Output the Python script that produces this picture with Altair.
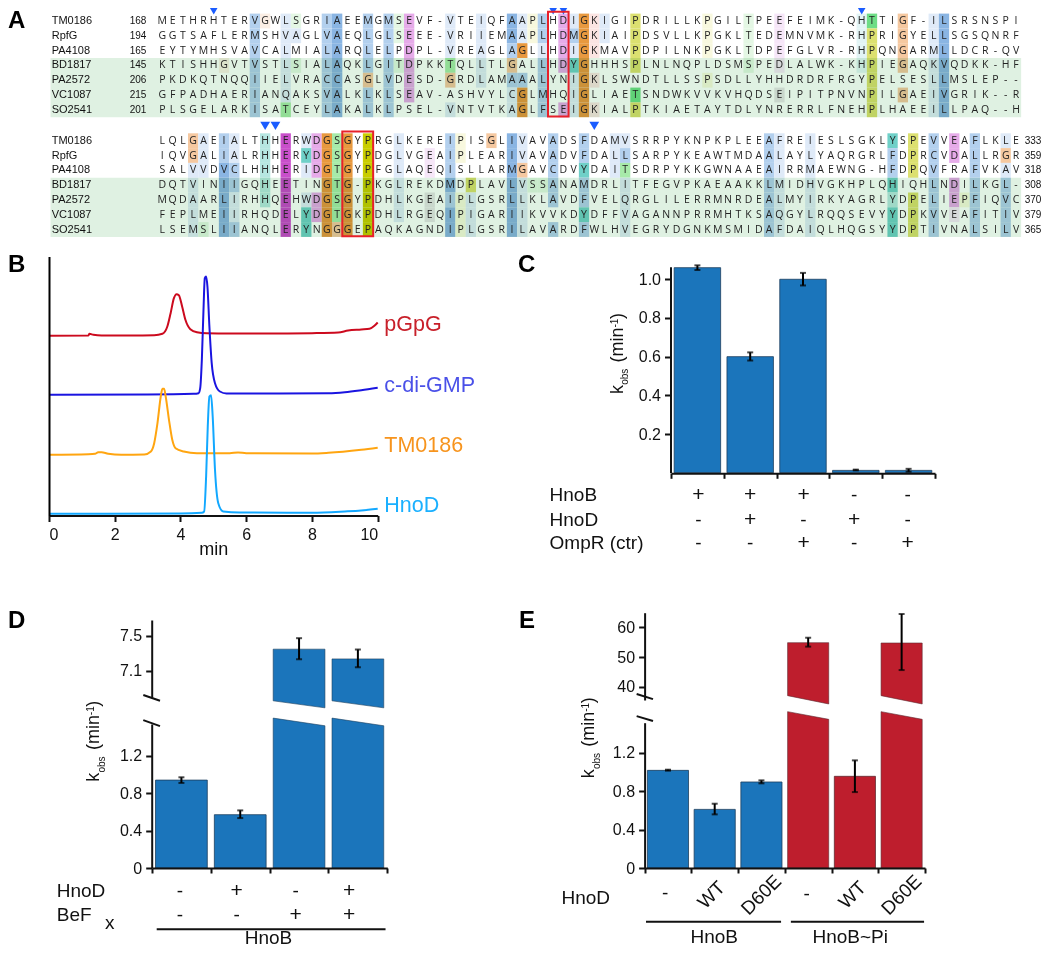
import altair as alt
import pandas as pd

W, H = 1034, 937
FONT = "Liberation Sans"

# ---------- panel A data ----------
names = ["TM0186", "RpfG", "PA4108", "BD1817", "PA2572", "VC1087", "SO2541"]
start1 = ["168", "194", "165", "145", "206", "215", "201"]
end2 = ["333", "359", "318", "308", "370", "379", "365"]
seq1 = [
    "METHRHTERVGWLSGRIAEEMGMSEVF-VTEIQFAAPLHDIGKIGIPDRILLKPGILTPEEFEIMK-QHTTIGF-ILSRSNSPI",
    "GGTSAFLERMSHVAGLVAEQLGLSEEE-VRIIEMAAPLHDMGKIAIPDSVLLKPGKLTEDEMNVMK-RHPRIGYELLSGSQNRF",
    "EYTYMHSVAVCALMIALARQLELPDPL-VREAGLAGLLHDIGKMAVPDPILNKPGKLTDPEFGLVR-RHPQNGARMLLDCR-QV",
    "KTISHHGVTVSTLSIALAQKLGITDPKKTQLLTLGALLHDYGHHHSPLNLNQPLDSMSPEDLALWK-KHPIEGAQKVQDKK-HF",
    "PKDKQTNQQIIELVRACCASGLVDESD-GRDLAMAAALYNIGKLSWNDTLLSSPSDLLYHHDRDRFRGYPELSESLLMSLEP--",
    "GFPADHAERIANQAKSVALKLKLSEAV-ASHVYLCGLMHQIGLIAETSNDWKVVKVHQDSEIPITPNVNPILGAEIVGRIK--R",
    "PLSGELARKISATCEYLAKALKLPSEL-VNTVTKAGLFSEIGKIALPTKIAETAYTDLYNRERRLFNEHPLHAEEILLPAQ--H",
]
seq2 = [
    "LQLGAEIALTHHERWDGSGYPRGLKEREIPISGLIVAVADSFDAMVSRRPYKNPKPLEEAFREIESLSGKLYSPEVVEAFLKLE",
    "IQVGALIALRHHERYDGSGYPDGLVGEAIPLEARIVAVADVFDALLSARPYKEAWTMDAALAYLYAQRGRLFDPRCVDALLRGR",
    "SALVVDVCLHHHERIDGTGYPFGLAQEQISLLARMGAVCDVYDAITSDRPYKKGWNAAEAIRRMAEWNG-HFDPQVFRAFVKAV",
    "DQTVINIIGQHEETINGTG-PKGLREKDMDPLAVLVSSANAMDRLITFEGVPKAEAAKKLMIDHVGKHPLQHIQHLNDILKGL-",
    "MQDAARLIRHHQEHWDGSGYPDHLKGEAIPLGSRLLKLAVDFVELQRGLILERRMNRDEALMYIRKYAGRLYDPELIEPFIQVC",
    "FEPLMEIIRHQDELYDGTGKPDHLRGEQIPIGARIIKVVKDYDFFVAGANNPRRMHTKSAQGYLRQQSEVYYDPKVVEAFITIV",
    "LSEMSLIIANQLERYNGGGEPAQKAGNDIPLGSRILAVARDFWLHVEGRYDGNKMSMIDAFDAIQLHQGSYYDPTIVNALSILV",
]
conservation_colors = {
    "A": "#dfeaf8", "B": "#b3d0ee", "C": "#8ab5e3", "O": "#e8993f", "o": "#f5c8a0", "p": "#fbeee4",
    "m": "#c94fcb", "M": "#e6abe9", "k": "#f6e6f8", "Y": "#c9cd00", "y": "#dce070", "z": "#f8f8de",
    "G": "#6edd86", "g": "#a7eaa9", "h": "#e4f7e4", "T": "#6fd0c8", "t": "#b6e6e1", "u": "#e2f4f5",
    "r": "#fbe4e2", "x": "#e6e4e6",
}
shade1 = {
    6: "...p...", 9: "BBBBBBB", 10: "p......", 12: "AAAAAAg", 13: "hA.h...", 16: "BBBBBBB", 17: "CCCCCCC",
    20: "BBBBoBB", 22: "BBBBBBB", 23: "hh.h...", 24: "MMMMMM.", 28: "AAAgo.A", 31: "AAAAA..", 34: "CCBoBAA",
    35: "AAO.BOO", 36: "zz.....", 37: "BBABBBB", 39: "MMMM..M", 40: "ABATAAA", 41: "OOOOOOO", 42: "rrr.r.r",
    43: "AA.....", 46: "yyyy.Gy", 53: "zzz.z..", 57: "hhhh...", 60: "kkkk.x.", 68: "uuuu...", 69: "Gyyyyyy",
    72: "oooo.o.", 75: "AAAAAAA", 76: "CCCCCCC",
}
shade2 = {
    3: "ooAAAAA", 4: "AAA...h", 6: "BBCCCCC", 7: "AABBAAB", 10: "ttttt..", 12: "mmmmmmm", 14: "ATA.ATT",
    15: "MMM.MM.", 16: "OOOOOOO", 17: "ggggggo", 18: "OOOOOOO", 20: "YYYYYYY", 23: "AAAAAA.", 26: ".kk.xx.",
    28: "BBBCBCC", 29: "zz..zzz", 30: "...yAAA", 32: "o......", 34: "CCCCCCC", 35: "AAoAAAA", 36: "...h...",
    37: "...h...", 38: "BBBBB.B", 41: "BBTBBTB", 44: "AAA....", 45: "ABgAAAA", 59: "BBBBBBB", 60: "AAAAAAA",
    63: "AAAAAAA", 71: "TBBTtTT", 73: "yyy.yyy", 75: "BBBBBBB", 77: "MM.MMk.", 78: "....z..", 79: "BBBBBBB",
    82: "AoABBBB",
}
arrows1 = [5, 38, 39, 68]
arrows2 = [10, 11, 42]

# ---------- panel B data ----------
t_pgpg = [0, 1.2, 1.23, 1.35, 1.6, 2.5, 3.2, 3.45, 3.6, 3.7, 3.8, 3.88, 3.95, 4.05, 4.15, 4.3, 4.5, 4.8, 5.5, 7, 8, 8.8, 9.1, 9.5, 9.75, 9.9, 10]
v_pgpg = [179.7, 180, 181.7, 180.7, 180, 180, 180.3, 181.7, 189, 202.3, 217.3, 221.3, 220.3, 209, 195.7, 186.3, 183.3, 182.3, 182, 182, 182.3, 183, 185, 186, 186.7, 189.7, 193]
t_cdg = [0, 3, 4.4, 4.55, 4.6, 4.65, 4.7, 4.74, 4.78, 4.82, 4.88, 4.95, 5.05, 5.2, 5.4, 7, 8.5, 9, 9.5, 10]
v_cdg = [120.7, 121, 121.7, 122.3, 127.3, 155.7, 205.7, 237.3, 239, 229, 189, 152.3, 132.3, 124, 122, 122, 122.3, 123.3, 125.3, 127.7]
t_tm = [0, 1.2, 1.4, 1.5, 1.6, 1.8, 2.2, 2.9, 3.1, 3.2, 3.3, 3.4, 3.45, 3.5, 3.55, 3.65, 3.75, 3.85, 4.1, 4.5, 5.5, 5.75, 6, 8, 8.5, 9.5, 10]
v_tm = [60.7, 61.3, 61.7, 63.3, 63.3, 61.7, 60.7, 61, 64, 72.3, 92.3, 119, 126.7, 126.7, 119, 95.7, 75.7, 67.3, 64, 62.3, 62.3, 63, 62.3, 62, 62.7, 65.7, 67.7]
t_hnod = [0, 4, 4.65, 4.72, 4.78, 4.83, 4.88, 4.93, 4.98, 5.05, 5.15, 5.3, 5.8, 8, 9, 9.5, 10]
v_hnod = [1.7, 2, 2.7, 4, 39, 89, 119, 120.3, 99, 45.7, 12.3, 4, 3, 2.7, 4, 5, 6.7]
b_labels = ["pGpG", "c-di-GMP", "TM0186", "HnoD"]
b_label_y = [185, 124, 64, 4]
b_line_colors = ["#cc0a1e", "#1a14e0", "#ffa510", "#12a8ff"]
b_text_colors = ["#c8202a", "#4a50e8", "#f7941d", "#1ab0ff"]

# ---------- panel C data ----------
c_val = [1.06, 0.60, 1.00, 0.012, 0.012]
c_lo = [1.048, 0.58, 0.968, 0.012, 0.005]
c_hi = [1.072, 0.622, 1.033, 0.016, 0.02]
c_rows = ["HnoB", "HnoD", "OmpR (ctr)"]
c_signs = [list("+++--"), list("-+-+-"), list("--+-+")]

# ---------- panel D data ----------
d_val = [0.94, 0.57]
d_lo = [0.91, 0.534]
d_hi = [0.97, 0.616]
d_up_top = [7.348, 7.237]
d_up_lo = [7.233, 7.142]
d_up_hi = [7.473, 7.344]

# ---------- panel E data ----------
e_blue = [1.016, 0.61, 0.895]
e_blue_lo = [1.013, 0.558, 0.881]
e_blue_hi = [1.023, 0.669, 0.912]
e_red_wt = [0.954]
e_red_wt_lo = [0.79]
e_red_wt_hi = [1.12]
e_up_top = [54.83, 54.72]
e_up_lo = [53.5, 45.6]
e_up_hi = [56.5, 64.5]
e_ticks = ["-", "WT", "D60E", "-", "WT", "D60E"]

BLUE, RED = "#1b75bb", "#be1e2d"
layers = []


def scale(domain, rng):
    return alt.Scale(domain=domain, range=[rng[0] - 8, rng[1] - 8], nice=False, zero=False)


def X(f, s, axis=None):
    return alt.X(f"{f}:Q", scale=s, axis=axis, title=None)


def Y(f, s, axis=None):
    return alt.Y(f"{f}:Q", scale=s, axis=axis, title=None, stack=False)


def left_axis(px, values, fmt=None):
    kw = dict(orient="left", offset=-(px - 8), values=values, domainWidth=2, domainColor="#111",
              tickColor="#111", tickWidth=2, tickSize=6, labelFont=FONT, labelFontSize=16, labelColor="#111",
              labelPadding=4, labelOverlap=False, grid=False, title=None, zindex=1, labelBound=False)
    if fmt:
        kw["labelExpr"] = fmt
    else:
        kw["format"] = ".1f"
    return alt.Axis(**kw)


def bottom_axis(py, values, labels=False, **extra):
    return alt.Axis(orient="bottom", offset=(py - 8) - H, values=values, domainWidth=2, domainColor="#111",
                    tickColor="#111", tickWidth=2, tickSize=5, labels=labels, grid=False, zindex=1,
                    labelFont=FONT, labelOverlap=False, labelBound=False, **extra)


def rect(df, sx, sy, x="x", x2="x2", y="y", y2="y2", **mk):
    return alt.Chart(df).mark_rect(**mk).encode(
        x=X(x, sx), x2=alt.X2(x2), y=Y(y, sy), y2=alt.Y2(y2))


def bars(xs, vals, sx, sy, color, xaxis=None, yaxis=None):
    df = pd.DataFrame({"x": [v + 0.06 for v in xs], "x2": [v + 0.94 for v in xs], "y": vals, "y2": [0] * len(vals)})
    return alt.Chart(df).mark_rect(fill=color, stroke="#1d3f5e" if color == BLUE else "#5e2a30", strokeWidth=0.8).encode(
        x=X("x", sx, xaxis), x2=alt.X2("x2"), y=Y("y", sy, yaxis), y2=alt.Y2("y2"))


def errbars(xs, lo, hi, sx, sy):
    df = pd.DataFrame({"x": xs, "lo": lo, "hi": hi})
    out = [alt.Chart(df).mark_rule(color="#000", strokeWidth=2).encode(x=X("x", sx), y=Y("lo", sy), y2=alt.Y2("hi"))]
    for f in ("lo", "hi"):
        out.append(alt.Chart(df).mark_tick(color="#000", orient="horizontal", size=6, thickness=2).encode(
            x=X("x", sx), y=Y(f, sy)))
    return out


def labels(xs, ys, texts, sx, sy, size=19, align="center", **mk):
    df = pd.DataFrame({"x": xs, "y": ys, "t": texts})
    return alt.Chart(df).mark_text(font=FONT, fontSize=size, align=align, baseline="middle", color="#111", **mk).encode(
        x=X("x", sx), y=Y("y", sy), text="t:N")


def fixed_text(px, py, t, size, angle=0, weight="normal", color="#111", align="left"):
    kw = {"angle": angle} if angle else {}
    return alt.Chart(pd.DataFrame({"a": [0]})).mark_text(
        font=FONT, fontSize=size, align=align, baseline="alphabetic", fontWeight=weight, color=color, **kw
    ).encode(x=alt.value(px - 8), y=alt.value(py - 8), text=alt.value(t))


def kobs(bx, by):
    pieces = [("k", 0, 18, 0), ("obs", 9.2, 10, 5.5), ("(min", 31.6, 18, 0), ("-1", 66.5, 10, -5), (")", 75, 18, 0)]
    return [fixed_text(bx + dx, by - along, t, size, angle=270) for t, along, size, dx in pieces]


def slash(sx, sy, x0, x1, y0, y1):
    df = pd.DataFrame({"x": [x0], "x2": [x1], "y": [y0], "y2": [y1]})
    return alt.Chart(df).mark_rule(color="#111", strokeWidth=2).encode(
        x=X("x", sx), x2=alt.X2("x2"), y=Y("y", sy), y2=alt.Y2("y2"))


def wedge(bar_x, y_left, y_right, y2_left, y2_right, sx, sy, color):
    df = pd.DataFrame({"x": [bar_x + 0.06, bar_x + 0.94], "y": [y_left, y_right], "y2": [y2_left, y2_right]})
    return alt.Chart(df).mark_area(fill=color, orient="vertical", stroke="#1d3f5e" if color == BLUE else "#5e2a30",
                                   strokeWidth=0.6).encode(
        x=X("x", sx), y=Y("y", sy), y2=alt.Y2("y2"))


# ---------- panel A ----------
def block(seqs, shade, arrows, arrow_row, arrow_size, top, box, left_nums, right_nums):
    sx = scale([0, 83], [162.3, 1016])
    sy = scale([-1, 6], [top - 14.8, top + 6 * 14.8])
    cols, rows, fills = [], [], []
    for c, codes in shade.items():
        for r, code in enumerate(codes):
            if code != ".":
                cols.append(c)
                rows.append(r)
                fills.append(conservation_colors[code])
    df = pd.DataFrame({"x": [c - 0.5 for c in cols], "x2": [c + 0.5 for c in cols],
                       "y": [r - 0.5 for r in rows], "y2": [r + 0.5 for r in rows], "f": fills})
    layers.append(alt.Chart(df).mark_rect().encode(
        x=X("x", sx), x2=alt.X2("x2"), y=Y("y", sy), y2=alt.Y2("y2"), fill=alt.Fill("f:N", scale=None)))
    band = pd.DataFrame({"x": [-10.87], "x2": [83.5], "y": [2.5], "y2": [6.5]})
    layers.append(rect(band, sx, sy, fill="#dff1e2", blend="multiply"))
    letters = [(c, r, ch) for r, s in enumerate(seqs) for c, ch in enumerate(s)]
    ldf = pd.DataFrame(letters, columns=["x", "y", "t"])
    layers.append(alt.Chart(ldf).mark_text(font="Open Sans", fontSize=10.5, baseline="middle", color="#222").encode(
        x=X("x", sx), y=Y("y", sy), text="t:N"))
    layers.append(labels([-10.75] * 7, list(range(7)), names, sx, sy, size=11, align="left"))
    if left_nums:
        layers.append(labels([-2.36] * 7, list(range(7)), left_nums, sx, sy, size=10))
    if right_nums:
        layers.append(labels([83.85] * 7, list(range(7)), right_nums, sx, sy, size=10, align="left"))
    adf = pd.DataFrame({"x": arrows, "y": [arrow_row] * len(arrows)})
    layers.append(alt.Chart(adf).mark_point(shape="triangle-down", filled=True, fill="#1a5cff", color="#1a5cff",
                                            opacity=1, size=arrow_size).encode(x=X("x", sx), y=Y("y", sy)))
    bdf = pd.DataFrame({"x": [box[0]], "x2": [box[1]], "y": [-0.63], "y2": [6.45]})
    layers.append(rect(bdf, sx, sy, fillOpacity=0, fill="#fff", stroke="#e8202a", strokeWidth=2))


block(seq1, shade1, arrows1, -0.67, 65, 21, (37.5, 39.5), start1, None)
block(seq2, shade2, arrows2, -1, 95, 140.7, (17.5, 20.5), None, end2)

# ---------- panel B ----------
bx = scale([0, 10], [49, 377.7])
by = scale([0, 259], [515.5, 256.5])
b_axis_x = alt.Axis(orient="bottom", offset=(515.5 - 8) - H, values=[0, 2, 4, 6, 8, 10], domainWidth=2, domainColor="#111",
                    tickColor="#111", tickWidth=2, tickSize=6, labelFont=FONT, labelFontSize=16, labelColor="#111",
                    labelPadding=5, grid=False, zindex=1, labelBound=False, labelOverlap=False, format="d",
                    title="min", titleFont=FONT, titleFontSize=18, titleFontWeight="normal", titleColor="#111",
                    titlePadding=-2)
b_axis_y = alt.Axis(orient="left", offset=-(49 - 8), values=[], domainWidth=2, domainColor="#000", ticks=False, labels=False,
                    grid=False, title=None, zindex=1)
b_series = [(t_pgpg, v_pgpg), (t_cdg, v_cdg), (t_tm, v_tm), (t_hnod, v_hnod)]
for i, (tt, vv) in enumerate(b_series):
    enc_x = alt.X("t:Q", scale=bx, axis=b_axis_x if i == 0 else None, title="min" if i == 0 else None)
    layers.append(alt.Chart(pd.DataFrame({"t": tt, "v": vv})).mark_line(
        color=b_line_colors[i], strokeWidth=2, interpolate="monotone").encode(
        x=enc_x, y=alt.Y("v:Q", scale=by, axis=b_axis_y if i == 0 else None, title=None)))
    ldf = pd.DataFrame({"x": [10.2], "y": [b_label_y[i]], "t": [b_labels[i]]})
    layers.append(alt.Chart(ldf).mark_text(font=FONT, fontSize=21.5, align="left", baseline="alphabetic",
                                           color=b_text_colors[i]).encode(x=X("x", bx), y=Y("y", by), text="t:N"))

# ---------- panel C ----------
cx = scale([0, 5], [671, 935])
cy = scale([0, 1.065], [472.7, 266.7])
ctab = scale([0, 100], [473, 573])
layers.append(bars(list(range(5)), c_val, cx, cy, BLUE,
                   bottom_axis(473.3, [0, 1, 2, 3, 4, 5]), left_axis(670.5, [0.2, 0.4, 0.6, 0.8, 1.0])))
layers += errbars([i + 0.5 for i in range(5)], c_lo, c_hi, cx, cy)
c_sym_x = [0.52, 1.5, 2.51, 3.47, 4.48]
c_row_y = [22, 47, 70.3]
layers.append(labels([-2.3] * 3, c_row_y, c_rows, cx, ctab, align="left"))
for r, row in enumerate(c_signs):
    for sign, size in (("+", 21), ("-", 19)):
        xs = [c_sym_x[i] for i, s in enumerate(row) if s == sign]
        if xs:
            layers.append(labels(xs, [c_row_y[r]] * len(xs), [sign] * len(xs), cx, ctab, size=size))
layers += kobs(622.6, 394)

# ---------- panel D ----------
dx = scale([0, 4], [152, 387.3])
dy = scale([0, 1.54], [868, 724])
du = scale([6.8, 7.68], [697.3, 620])
dtab = scale([0, 100], [868, 968])
layers.append(bars([0, 1], d_val, dx, dy, BLUE, bottom_axis(868, [0, 1, 2, 3, 4]),
                   left_axis(151.7, [0, 0.4, 0.8, 1.2], "datum.value == 0 ? '0' : format(datum.value, '.1f')")))
for i, b in enumerate([2, 3]):
    layers.append(wedge(b, 1.603, 1.521, 0, 0, dx, dy, BLUE))
    layers.append(wedge(b, d_up_top[i], d_up_top[i], 6.76, 6.68, dx, du, BLUE))
layers.append(alt.Chart(pd.DataFrame({"x": [2.5], "y": [7.1]})).mark_point(opacity=0).encode(
    x=X("x", dx), y=Y("y", du, left_axis(151.7, [7.1, 7.5]))))
layers += errbars([0.5, 1.5], d_lo, d_hi, dx, dy)
layers += errbars([2.5, 3.5], d_up_lo, d_up_hi, dx, du)
layers.append(slash(dx, dy, -0.148, 0.136, 1.581, 1.517))
layers.append(slash(dx, du, -0.148, 0.136, 6.826, 6.76))
layers.append(labels([-1.62, -1.62], [23, 47], ["HnoD", "BeF"], dx, dtab, align="left"))
layers.append(labels([-0.8], [54.7], ["x"], dx, dtab, align="left"))
d_sym = [(0.476, 23, "-"), (1.44, 23, "+"), (2.44, 23, "-"), (3.35, 23, "+"),
         (0.476, 47, "-"), (1.44, 47, "-"), (2.44, 47, "+"), (3.35, 47, "+")]
for sign, size in (("+", 21), ("-", 19)):
    pts = [p for p in d_sym if p[2] == sign]
    layers.append(labels([p[0] for p in pts], [p[1] for p in pts], [p[2] for p in pts], dx, dtab, size=size))
layers.append(alt.Chart(pd.DataFrame({"x": [0.08], "x2": [3.97], "y": [61.3]})).mark_rule(color="#111", strokeWidth=2).encode(
    x=X("x", dx), x2=alt.X2("x2"), y=Y("y", dtab)))
layers.append(labels([1.98], [69.5], ["HnoB"], dx, dtab))
layers += kobs(99.3, 781.7)

# ---------- panel E ----------
ex = scale([0, 6], [644.6, 925])
ey = scale([0, 1.512], [868, 722.7])
eu = scale([35.5, 64.94], [700, 612.7])
etab = scale([0, 100], [868, 968])
layers.append(bars([0, 1, 2], e_blue, ex, ey, BLUE, bottom_axis(868, [0, 1, 2, 3, 4, 5, 6]),
                   left_axis(644.6, [0, 0.4, 0.8, 1.2], "datum.value == 0 ? '0' : format(datum.value, '.1f')")))
layers.append(bars([4], e_red_wt, ex, ey, RED))
for i, b in enumerate([3, 5]):
    layers.append(wedge(b, 1.627, 1.547, 0, 0, ex, ey, RED))
    layers.append(wedge(b, e_up_top[i], e_up_top[i], 36.97, 34.16, ex, eu, RED))
layers.append(alt.Chart(pd.DataFrame({"x": [3.5], "y": [50]})).mark_point(opacity=0).encode(
    x=X("x", ex), y=Y("y", eu, alt.Axis(orient="left", offset=-(644.6 - 8), values=[40, 50, 60], domainWidth=2, domainColor="#111",
                                        tickColor="#111", tickWidth=2, tickSize=6, labelFont=FONT, labelFontSize=16, labelColor="#111",
                                        labelPadding=4, grid=False, title=None, zindex=1, format="d"))))
layers += errbars([0.5, 1.5, 2.5], e_blue_lo, e_blue_hi, ex, ey)
layers += errbars([4.5], e_red_wt_lo, e_red_wt_hi, ex, ey)
layers += errbars([3.5, 5.5], e_up_lo, e_up_hi, ex, eu)
layers.append(slash(ex, ey, -0.17, 0.18, 1.58, 1.53))
layers.append(slash(ex, eu, -0.17, 0.18, 37.5, 35.8))
layers.append(labels([-1.78], [30.3], ["HnoD"], ex, etab, align="left"))
e_tx = [0.44, 1.43, 2.5, 3.47, 4.45, 5.5]
e_ty = [25, 27, 27, 26, 27, 27]
for i, t in enumerate(e_ticks):
    if t == "-":
        layers.append(labels([e_tx[i]], [e_ty[i]], [t], ex, etab))
    else:
        layers.append(labels([e_tx[i]], [e_ty[i]], [t], ex, etab, angle=315))
layers.append(alt.Chart(pd.DataFrame({"x": [0.03, 3.13], "x2": [2.92, 5.98], "y": [53.7, 53.7]})).mark_rule(
    color="#111", strokeWidth=2).encode(x=X("x", ex), x2=alt.X2("x2"), y=Y("y", etab)))
layers.append(labels([1.49, 4.4], [68.5, 68.5], ["HnoB", "HnoB~Pi"], ex, etab))
layers += kobs(594.4, 778.3)

# ---------- panel letters ----------
for t, px, py in [("A", 8, 28), ("B", 8, 272), ("C", 518, 272), ("D", 8, 628), ("E", 519, 628)]:
    layers.append(fixed_text(px, py, t, 24, weight="bold", color="#000"))

chart = alt.layer(*layers).resolve_scale(x="independent", y="independent").properties(
    width=W, height=H, padding=0, autosize=alt.AutoSizeParams(type="none"), background="#ffffff"
).configure_view(stroke=None)

chart.save("out.html", embed_options={"renderer": "svg", "actions": False})
